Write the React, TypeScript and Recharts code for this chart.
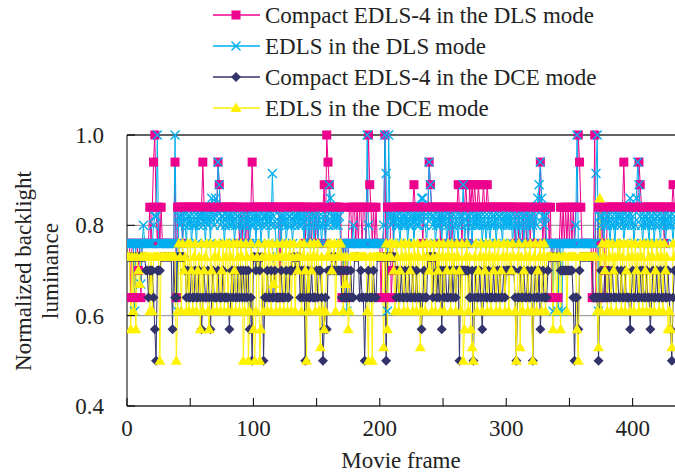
import React from "react";
import { CartesianGrid, Legend, Line, LineChart, ReferenceLine, XAxis, YAxis } from "recharts";

// luminance level per letter code
const levels: Record<string, number> = {
  A: 1.0, B: 0.94, b: 0.915, C: 0.89, c: 0.86, D: 0.84, E: 0.82, F: 0.8,
  G: 0.76, H: 0.73, I: 0.7, J: 0.67, K: 0.64, L: 0.61, M: 0.57, m: 0.53, N: 0.5
};

// one code per movie frame, 50 frames per string
const compactDls = [
  "GGGKGGKGGI GKGGGGGGDG DBADGDGDGG GGGGGGGGBK DDDDGDDDDD",
  "DDDDDDDDDD BDDDDDDDDD DDBCDDDDDD DDDDDDDDDG DGDDGDGDDB",
  "DDDDDDDDDD DDDDDDDDDD DKDDDDDDDD DDDDDDDDDD DGDDGDGDDG",
  "DGDDDDCGAB CDDDDDDDDD KGIGKGDDGD DGDGDDGDDG DACDGDGDGG",
  "GKGGAKDDDK IDDDDDDDDD DDDDDDDCDD DDDDGDDDDB CDDDDDDDGD",
  "DDDDDGDGDD DDCDDGDDCD GCDCDCDDCD DDCDDCDDDD DDDDDDDDDD",
  "DDDDDDDGDD GDDGDDGDDG DDGDDDDBDG DGDDGDKGGG GKGDGDGDGD",
  "GDGDGDDABD GGGGGGGGKG AKGDKDGDKI DDDDDDDDDD DDDBDDDDDD",
  "DDDDDBCDDD DDDDDDDDDD DDDDDGDDDD DDCD"
];
const edlsDls = [
  "GGGGGGLGGG GJGFGGGGGG GFEEAGGGGG GGGGGGGGAG LEFEGEFGEF",
  "EGFEFGEFEE FEGEFEGcEF cEBCFEEGFE EFEFEGFEEF GEFGEFEGFE",
  "FEGEFEGFEE FEGEFbEFGH FEGEFEGFEE FGEFEEFEFE GEFGEGFEGE",
  "FGEFGEFGEF CcEFEFEFEG GIGGLGGGGF GGGGGGGGGG AFGGGGGGGG",
  "GGGFAbLAEF EGEFEFGEFE FEGFEFEGEF EFEccEFGEB CEFEGFEFEG",
  "EFEGFEGEFG EFGEFECGFE GEFGEFEFEF EGFEGFEGFE FEGFEEFGEF",
  "EFEFEGFEGF EGFEGEFGEF EFGEFcCBcE FEGGGGGLGG GLGGLGGGGG",
  "GGGGGFAGGG GGGGGGGGGG GbALEFEGFE FEGFEFGEFE EFEGFEFEcF",
  "EGFcBCEFGE FEFGEFEGFE EFGEFEGFEF EFGE"
];
const compactDce = [
  "HHHHHHHHHH HHHHHIIKII IKMNIIIHHH HHHHHHMHKK HHHHHHIKIK",
  "KIKKIKKIKM KIKKIKMKIK KKIKKKIKKK KMKIKIKKIK IKIKIKIMKN",
  "HHIHHIHHNK KIKKIKKIKK KKIKKKIKKI IHHIHHHKIK INKIKKIKKK",
  "IKIIKNMKMI IIHIIHIIII KIKKIKKIKK HHHHKIKKNK KIKKKIKKHH",
  "HHHHHNHHHH HHHKIKKIKK IKKIKKIKKI KKKMKIKKHH HHKHHKIKIM",
  "IKIKKIKIKI KIINIIIIII IKKINKIKKI KMKIKKIKKK IKKIKIKKIK",
  "IIIIIIIKNK KIKKIKKIKK INKIKKIMKI KKKIHHHHHH HHHIIIIIII",
  "IIIKNKKMIH HHHHHHHHHK KKKNKIKKIK KIKKIKKKIK KIKKIKKKMK",
  "IKKIKKIKIK KIKKMKIKKI KKIKKIKKIK MNKI"
];
const edlsDce = [
  "HHHMHLHMHI JHHHHHHHLH LHHHHHNHHH HHHHHHHHHN LGHLGIHLGL",
  "GILHGLIHMG LIHGLMGILH GLHGLIGLHG LGHLGILGHL GHNLGHNLGH",
  "MNLHGNMHLG HLGHLGJHLG HLHGLHGLHG LHGLHIHGLH GINHLGIHGL",
  "HGLmHLMLHG HGIHGLHGHG HLHJHMLHHH HHHHHHHHHH LNHHNHHHHH",
  "HHHmHGMHGH GILGHLIGHL GHLGIHLGHL GHmLGHLGHI GLHGLHIGLH",
  "GLHIGHLGIH LGHILGNMHG LHMmNHGLIH GLHIGLHGLH IGLHGLIHGL",
  "HGLHIGHLNH GmHLIGHLHG LNHGLIHGLH GLHHHHHMHH LHHMHHHHLH",
  "HHHHHHMNHH HHHHHHHHHH HHLmcLGHIG LGHLGIHLGH GLHGLIGHLG",
  "HLGIHLGHLG ILGHLGHLIG HLGHLGIHML MmGH"
];

const xTicks = [0, 50, 100, 150, 200, 250, 300, 350, 400];
const yTicks = [0.4, 0.6, 0.8, 1.0];

const decode = (blocks: string[]) =>
  blocks.join("").replace(/\s/g, "").split("").map((ch) => levels[ch]);

const pinkVals = decode(compactDls);
const cyanVals = decode(edlsDls);
const navyVals = decode(compactDce);
const yellowVals = decode(edlsDce);

const data = pinkVals.map((v, i) => ({
  frame: i,
  pink: v,
  cyan: cyanVals[i],
  navy: navyVals[i],
  yellow: yellowVals[i]
}));

const FONT = "'Liberation Serif', 'Times New Roman', serif";
const PINK = "#ec008c";
const CYAN = "#00aeef";
const NAVY = "#33336b";
const YELLOW = "#fff200";

const series = [
  { key: "pink", name: "Compact EDLS-4 in the DLS mode", color: PINK, shape: "square" },
  { key: "cyan", name: "EDLS in the DLS mode", color: CYAN, shape: "cross" },
  { key: "navy", name: "Compact EDLS-4 in the DCE mode", color: NAVY, shape: "diamond" },
  { key: "yellow", name: "EDLS in the DCE mode", color: YELLOW, shape: "triangle" }
];

function marker(shape: string, cx: number, cy: number, color: string, key?: string) {
  if (shape === "square") {
    return <rect key={key} x={cx - 4.5} y={cy - 4.5} width={9} height={9} fill={color} />;
  }
  if (shape === "cross") {
    return (
      <g key={key} stroke={color} strokeWidth={1.4}>
        <line x1={cx - 4.5} y1={cy - 4.5} x2={cx + 4.5} y2={cy + 4.5} />
        <line x1={cx - 4.5} y1={cy + 4.5} x2={cx + 4.5} y2={cy - 4.5} />
      </g>
    );
  }
  if (shape === "diamond") {
    return (
      <polygon
        key={key}
        points={`${cx},${cy - 5} ${cx + 5},${cy} ${cx},${cy + 5} ${cx - 5},${cy}`}
        fill={color}
      />
    );
  }
  return (
    <polygon
      key={key}
      points={`${cx},${cy - 5.5} ${cx + 5.5},${cy + 4} ${cx - 5.5},${cy + 4}`}
      fill={color}
    />
  );
}

const makeDot = (shape: string, color: string) => (props: any) =>
  marker(shape, props.cx, props.cy, color, `${shape}-${props.index}`);

const XTick = (props: any) => {
  const { x, y, payload } = props;
  return (
    <g>
      <line x1={x} x2={x} y1={y} y2={y - 8} stroke="#000" />
      {payload.value % 100 === 0 && (
        <text x={x} y={y + 22} dy="0.35em" textAnchor="middle" fontSize={23} fontFamily={FONT} fill="#222">
          {payload.value}
        </text>
      )}
    </g>
  );
};

const YTick = (props: any) => {
  const { x, y, payload } = props;
  return (
    <g>
      <line x1={x} x2={x + 8} y1={y} y2={y} stroke="#000" />
      <text x={x - 23} y={y} dy="0.35em" textAnchor="end" fontSize={23} fontFamily={FONT} fill="#222">
        {payload.value.toFixed(1)}
      </text>
    </g>
  );
};

const YLabel = () => (
  <g fontSize={23} fontFamily={FONT} fill="#222" textAnchor="middle">
    <text transform="translate(23,271) rotate(-90)" dy="0.35em">Normalized backlight</text>
    <text transform="translate(50,271) rotate(-90)" dy="0.35em">luminance</text>
  </g>
);

const XLabel = (props: any) => {
  const vb = props.viewBox || { x: 127, width: 548, y: 406 };
  return (
    <text x={vb.x + vb.width / 2} y={460} dy="0.35em" textAnchor="middle" fontSize={23} fontFamily={FONT} fill="#222">
      Movie frame
    </text>
  );
};

const renderLegend = () => (
  <svg width={470} height={124}>
    {series.map((s, i) => {
      const y = 15 + i * 31;
      return (
        <g key={s.key}>
          <line x1={3} x2={50} y1={y} y2={y} stroke={s.color} strokeWidth={1.5} />
          {marker(s.shape, 26, y, s.color)}
          <text x={55} y={y} dy="0.35em" fontSize={23} fontFamily={FONT} fill="#222">
            {s.name}
          </text>
        </g>
      );
    })}
  </svg>
);

export default function App() {
  return (
    <div style={{ position: "absolute", left: 0, top: 0, background: "#fff" }}>
      {/* the legend height (124) is added to the top offset by recharts */}
      <LineChart width={675} height={476} data={data} margin={{ top: 11, right: 0, bottom: 0, left: 0 }}>
        <CartesianGrid vertical={false} stroke="#8c8c8c" />
        <ReferenceLine y={1.0} stroke="#000" />
        <XAxis
          dataKey="frame"
          type="number"
          domain={[0, 433.5]}
          ticks={xTicks}
          height={70}
          tickSize={0}
          tickMargin={0}
          tickLine={false}
          tick={<XTick />}
          stroke="#000"
          allowDataOverflow
          label={<XLabel />}
        />
        <YAxis
          type="number"
          domain={[0.4, 1.0]}
          ticks={yTicks}
          width={127}
          tickSize={0}
          tickMargin={0}
          tickLine={false}
          tick={<YTick />}
          stroke="#000"
          label={<YLabel />}
        />
        <Legend
          layout="vertical"
          align="center"
          verticalAlign="top"
          content={renderLegend}
          wrapperStyle={{ position: "absolute", top: 0, left: 210, width: 470, height: 124 }}
        />
        {series.map((s) => (
          <Line
            key={s.key}
            type="linear"
            dataKey={s.key}
            name={s.name}
            stroke={s.color}
            strokeWidth={1}
            dot={makeDot(s.shape, s.color)}
            activeDot={false}
            isAnimationActive={false}
          />
        ))}
      </LineChart>
    </div>
  );
}
